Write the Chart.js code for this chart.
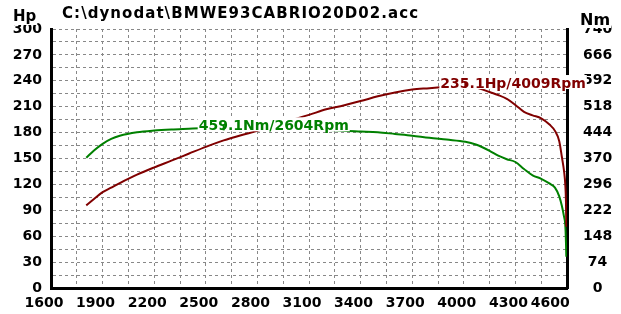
<!DOCTYPE html>
<html>
<head>
<meta charset="utf-8">
<script src="https://cdn.jsdelivr.net/npm/chart.js@4/dist/chart.umd.min.js"></script>
<style>
  html, body { margin: 0; padding: 0; background: #fff; }
  #wrap { position: relative; width: 621px; height: 314px; }
  canvas { display: block; }
</style>
</head>
<body>
<div id="wrap"><canvas id="c" width="621" height="314"></canvas></div>
<script>
// ---- data ----
const chartTitle = 'C:\\dynodat\\BMWE93CABRIO20D02.acc';
const leftAxisTitle = 'Hp';
const rightAxisTitle = 'Nm';

const rpm = [1805, 1850, 1900, 1950, 2000, 2100, 2200, 2300, 2400, 2500, 2604, 2700, 2800, 2900, 3000, 3100, 3200, 3300, 3400, 3500, 3600, 3700, 3800, 3900, 4009, 4070, 4150, 4200, 4250, 4300, 4350, 4400, 4450, 4500, 4530, 4555, 4570, 4583, 4590, 4594, 4596];
const powerHp = [95.7, 103.2, 111.0, 116.3, 121.6, 131.3, 139.7, 147.5, 155.5, 163.5, 171.0, 176.7, 182.0, 188.0, 194.5, 200.5, 207.0, 211.5, 216.5, 222.0, 226.5, 229.8, 231.5, 233.3, 235.1, 232.6, 227.0, 223.5, 219.0, 212.0, 204.0, 200.0, 196.5, 189.0, 182.0, 170.0, 152.0, 135.0, 120.0, 100.0, 71.0];
const torqueNm = [372, 393, 412, 426, 435, 445, 450, 453, 455, 457, 459.1, 457, 454, 453, 453, 454, 452, 449, 447, 445, 440, 435, 429, 424, 418, 410, 392, 378, 368, 360, 340, 322, 312, 298, 287, 262, 235, 203, 180, 130, 89];

const peakPower = { rpm: 4009, value: 235.1 };
const peakTorque = { rpm: 2604, value: 459.1 };

const rpmTicks = [1600, 1900, 2200, 2500, 2800, 3100, 3400, 3700, 4000, 4300, 4600];
const rpmTickLabels = ['1600', '1900', '2200', '2500', '2800', '3100', '3400', '3700', '4000', '4300', '4600'];
const hpTicks = [0, 30, 60, 90, 120, 150, 180, 210, 240, 270, 300];
const hpTickLabels = ['0', '30', '60', '90', '120', '150', '180', '210', '240', '270', '300'];
const nmTicks = [0, 74, 148, 222, 296, 370, 444, 518, 592, 666, 740];
const nmTickLabels = ['0', '74', '148', '222', '296', '370', '444', '518', '592', '666', '740'];

// ---- styles ----
const POWER_COLOR = '#800000';
const TORQUE_COLOR = '#008000';
const GRID_COLOR = '#888888';
const FONT_FAMILY = "'DejaVu Sans', Verdana, sans-serif";

const powerPoints = rpm.map((r, i) => ({ x: r, y: powerHp[i] }));
const torquePoints = rpm.map((r, i) => ({ x: r, y: torqueNm[i] }));

function pickLabel(ticks, labels, v) {
  const i = ticks.indexOf(v);
  return i >= 0 ? labels[i] : '';
}

const overlay = {
  id: 'overlay',
  afterDatasetDraw(chart, args) {
    if (args.index !== 0) return;
    const ctx = chart.ctx;
    const xs = chart.scales.x;
    const drawPeak = (peak, scaleId, text, color) => {
      const px = xs.getPixelForValue(peak.rpm);
      const py = chart.scales[scaleId].getPixelForValue(peak.value);
      ctx.save();
      ctx.font = 'bold 14px ' + FONT_FAMILY;
      const w = ctx.measureText(text).width;
      const left = px - 25;
      const base = py + 3;
      ctx.fillStyle = '#ffffff';
      ctx.fillRect(left - 1, base - 13, w + 2, 14);
      ctx.fillStyle = color;
      ctx.textAlign = 'left';
      ctx.textBaseline = 'alphabetic';
      ctx.fillText(text, left, base);
      ctx.restore();
    };
    drawPeak(peakTorque, 'y1', peakTorque.value.toFixed(1) + 'Nm/' + peakTorque.rpm + 'Rpm', TORQUE_COLOR);
    drawPeak(peakPower, 'y', peakPower.value.toFixed(1) + 'Hp/' + peakPower.rpm + 'Rpm', POWER_COLOR);
  },
  afterDraw(chart) {
    const ctx = chart.ctx;
    ctx.save();
    ctx.textAlign = 'left';
    ctx.textBaseline = 'alphabetic';
    // title
    ctx.font = 'bold 15px ' + FONT_FAMILY;
    ctx.fillStyle = '#000';
    const tw = ctx.measureText(chartTitle).width;
    const target = 356;
    const n = chartTitle.length - 1;
    ctx.letterSpacing = Math.max(0, (target - tw) / n).toFixed(2) + 'px';
    ctx.fillText(chartTitle, 62, 18);
    ctx.letterSpacing = '0px';
    // Hp
    ctx.font = 'bold 15px ' + FONT_FAMILY;
    const hw = ctx.measureText(leftAxisTitle).width;
    ctx.fillStyle = '#fff';
    ctx.fillRect(12, 8, hw + 2, 17);
    ctx.fillStyle = '#000';
    ctx.fillText(leftAxisTitle, 13, 21);
    // Nm
    ctx.font = 'bold 16px ' + FONT_FAMILY;
    const nw = ctx.measureText(rightAxisTitle).width;
    ctx.fillStyle = '#fff';
    ctx.fillRect(579, 10, nw + 2, 18);
    ctx.fillStyle = '#000';
    ctx.fillText(rightAxisTitle, 580, 25);
    ctx.restore();
  }
};

new Chart(document.getElementById('c'), {
  type: 'line',
  data: {
    datasets: [
      {
        label: 'Power (Hp)',
        data: powerPoints,
        yAxisID: 'y',
        borderColor: POWER_COLOR,
        borderWidth: 2,
        pointRadius: 0,
        tension: 0.3,
        cubicInterpolationMode: 'monotone',
        fill: false
      },
      {
        label: 'Torque (Nm)',
        data: torquePoints,
        yAxisID: 'y1',
        borderColor: TORQUE_COLOR,
        borderWidth: 2,
        pointRadius: 0,
        tension: 0.3,
        cubicInterpolationMode: 'monotone',
        fill: false
      },
      {
        label: 'Peak power',
        data: [{ x: peakPower.rpm, y: peakPower.value }],
        yAxisID: 'y',
        showLine: false,
        order: -1,
        pointStyle: 'line',
        rotation: 90,
        pointRadius: 3,
        borderWidth: 2,
        borderColor: POWER_COLOR,
        backgroundColor: POWER_COLOR
      },
      {
        label: 'Peak torque',
        data: [{ x: peakTorque.rpm, y: peakTorque.value }],
        yAxisID: 'y1',
        showLine: false,
        order: -1,
        pointStyle: 'line',
        rotation: 90,
        pointRadius: 3,
        borderWidth: 2,
        borderColor: TORQUE_COLOR,
        backgroundColor: TORQUE_COLOR
      }
    ]
  },
  options: {
    responsive: false,
    animation: false,
    events: [],
    layout: { padding: { top: 29, left: 0, right: 0, bottom: 0 } },
    plugins: {
      legend: { display: false },
      title: { display: false },
      tooltip: { enabled: false }
    },
    scales: {
      x: {
        type: 'linear',
        position: 'bottom',
        min: 1600,
        max: 4600,
        afterFit(s) { s.height = 26; },
        ticks: {
          stepSize: 150,
          autoSkip: false,
          maxRotation: 0,
          minRotation: 0,
          padding: 7,
          labelOffset: -7,
          color: '#000',
          font: { family: FONT_FAMILY, weight: 'bold', size: 14 },
          callback(v) {
            const l = pickLabel(rpmTicks, rpmTickLabels, v);
            return v === rpmTicks[rpmTicks.length - 1] ? l + '    ' : l;
          }
        },
        grid: { color: GRID_COLOR, lineWidth: 1, drawTicks: false },
        border: { color: '#000', width: 3, dash: [3, 3] }
      },
      y: {
        type: 'linear',
        position: 'left',
        min: 0,
        max: 300,
        afterFit(s) { s.width = 51; },
        ticks: {
          stepSize: 15,
          autoSkip: false,
          padding: 9,
          color: '#000',
          font: { family: FONT_FAMILY, weight: 'bold', size: 14 },
          callback(v) { return pickLabel(hpTicks, hpTickLabels, v); }
        },
        grid: { color: GRID_COLOR, lineWidth: 1, drawTicks: false },
        border: { color: '#000', width: 3, dash: [3, 3] }
      },
      y1: {
        type: 'linear',
        position: 'right',
        min: 0,
        max: 740,
        afterFit(s) { s.width = 54; },
        ticks: {
          stepSize: 37,
          autoSkip: false,
          padding: 16,
          crossAlign: 'center',
          color: '#000',
          font: { family: FONT_FAMILY, weight: 'bold', size: 14 },
          callback(v) { return pickLabel(nmTicks, nmTickLabels, v); }
        },
        grid: { display: false, drawTicks: false },
        border: { color: '#000', width: 3 }
      }
    }
  },
  plugins: [overlay]
});
</script>
</body>
</html>
